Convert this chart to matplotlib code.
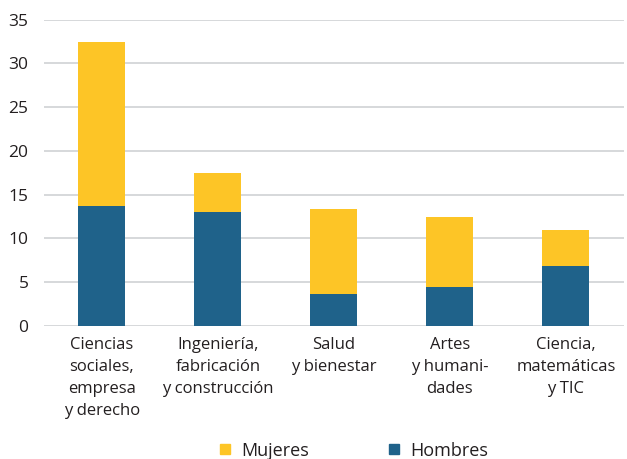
import matplotlib.pyplot as plt
from matplotlib.lines import Line2D

# data
categories = ["Ciencias\nsociales,\nempresa\ny derecho",
              "Ingeniería,\nfabricación\ny construcción",
              "Salud\ny bienestar",
              "Artes\ny humani-\ndades",
              "Ciencia,\nmatemáticas\ny TIC"]
hombres = [13.7, 13.0, 3.7, 4.4, 6.9]
mujeres = [18.7, 4.5, 9.7, 8.0, 4.1]
yticks = [0, 5, 10, 15, 20, 25, 30, 35]

yellow = "#FDC526"
blue = "#1F628A"
grid_c = "#D3D5D8"
text_c = "#231F20"

plt.rcParams['font.family'] = ['Open Sans', 'DejaVu Sans']

fig = plt.figure(figsize=(6.27, 4.59), dpi=100)
ax = fig.add_axes([0.070, 0.290, 0.925, 0.667])

x = list(range(len(categories)))
ax.bar(x, hombres, width=0.405, color=blue, zorder=3)
ax.bar(x, mujeres, width=0.405, bottom=hombres, color=yellow, zorder=3)

ax.set_xlim(-0.5, len(categories) - 0.5)
ax.set_ylim(0, 35)
ax.set_yticks(yticks)
ax.set_xticks(x)
ax.set_xticklabels(categories, linespacing=1.5)
ax.tick_params(axis='x', length=0, labelsize=12, labelcolor=text_c, pad=8)
ax.tick_params(axis='y', length=0, labelsize=12.5, labelcolor=text_c, pad=11)
ax.yaxis.grid(True, color=grid_c, linewidth=1.3, zorder=0)
for s in ax.spines.values():
    s.set_visible(False)
ax.set_axisbelow(True)

handles = [Line2D([], [], marker='s', linestyle='', color=yellow, markersize=6.5),
           Line2D([], [], marker='s', linestyle='', color=blue, markersize=6.5)]
fig.legend(handles, ["Mujeres", "Hombres"], loc='center', bbox_to_anchor=(0.561, 0.018),
           ncol=2, frameon=False, fontsize=13, handlelength=1.0, handletextpad=0.4,
           columnspacing=4.2, labelcolor=text_c)

fig.savefig("out.png", dpi=100)
